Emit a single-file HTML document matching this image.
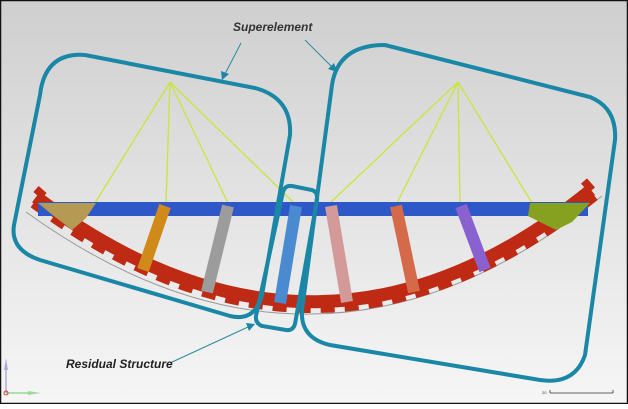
<!DOCTYPE html>
<html><head><meta charset="utf-8"><style>
html,body{margin:0;padding:0;}
body{width:628px;height:404px;overflow:hidden;}
</style></head><body>
<svg width="628" height="404" viewBox="0 0 628 404" xmlns="http://www.w3.org/2000/svg">
<defs>
<linearGradient id="bg" x1="0" y1="0" x2="0" y2="1">
<stop offset="0" stop-color="#cfcfcf"/><stop offset="0.5" stop-color="#e3e3e3"/><stop offset="1" stop-color="#f6f6f6"/>
</linearGradient>
</defs>
<rect x="0" y="0" width="628" height="404" fill="url(#bg)"/>
<rect x="0.5" y="0.5" width="627" height="403" fill="none" stroke="#111" stroke-width="1.5"/>
<g stroke="#c8e63a" stroke-width="1.3" fill="none">
<path d="M170,82 L95,203 M170,82 L166,203 M170,82 L228,203 M170,82 L294,203"/>
<path d="M458,82 L330,203 M458,82 L397,203 M458,82 L460,203 M458,82 L532,203"/>
</g>
<!-- arch -->
<path d="M26,212 Q320,424 602,196" stroke="#999" stroke-width="1" fill="none"/>
<path d="M33,204 Q320,418 596,196" stroke="#bf2a14" stroke-width="8" fill="none" stroke-dasharray="14 10"/>
<path d="M36,197 Q320,410 591,190" stroke="#bf2a14" stroke-width="13" fill="none"/>
<path d="M36,189 L44,196" stroke="#bf2a14" stroke-width="8"/>
<path d="M584,181 L592,190" stroke="#bf2a14" stroke-width="8"/>
<rect x="38" y="202" width="550" height="14" fill="#2e57c8"/>
<g stroke-width="12" fill="none">
<path d="M165,206 L143,270" stroke="#d08a1a"/>
<path d="M228,206 L207,292" stroke="#9c9c9c"/>
<path d="M296,206 L280,303" stroke="#4a8ad0"/>
<path d="M331,206 L347,302" stroke="#d49a9a"/>
<path d="M396,206 L414,292" stroke="#d46a4a"/>
<path d="M461,206 L485,270" stroke="#8a62d0"/>
</g>
<polygon points="38,203 96,203 86,218 72,230 50,213" fill="#b49a52"/>
<polygon points="530,203 590,203 572,222 556,230 528,216" fill="#86a020"/>
<g stroke="#1a87a6" stroke-width="4" fill="none">
<path d="M40,95 Q45,52 85,55 L255,88 Q292,98 290,135 L262,295 Q255,322 230,316 L40,260 Q10,250 14,225 Z"/>
<path d="M332,85 Q338,45 385,45 L590,97 Q617,108 615,140 L585,355 Q575,385 540,380 L330,345 Q300,338 302,310 Z"/>
<path d="M283,192 Q285,185 292,186 L312,190 Q318,192 317,200 L295,324 Q293,331 286,330 L262,326 Q255,323 256,316 Z"/>
</g>
<g stroke="#2a8aa0" stroke-width="1" fill="#1a87a6">
<line x1="241" y1="43" x2="225" y2="74"/>
<polygon points="222,80 221,71 229,74" stroke="none"/>
<line x1="305" y1="40" x2="332" y2="67"/>
<polygon points="337,72 328,69 334,63" stroke="none"/>
<line x1="170" y1="363" x2="248" y2="327"/>
<polygon points="255,324 246,323 249,331" stroke="none"/>
</g>
<text x="233" y="31" font-family="Liberation Sans, sans-serif" font-size="12" font-style="italic" font-weight="bold" fill="#333">Superelement</text>
<text x="66" y="368" font-family="Liberation Sans, sans-serif" font-size="12" font-style="italic" font-weight="bold" fill="#222">Residual Structure</text>
<line x1="6" y1="393" x2="6" y2="360" stroke="#8888cc" stroke-width="1"/>
<polygon points="4,370 8,370 6,358" fill="#aaaadd"/>
<line x1="6" y1="393" x2="38" y2="393" stroke="#66cc66" stroke-width="1"/>
<polygon points="28,391 28,395 41,393" fill="#99dd99"/>
<circle cx="6" cy="393" r="2" fill="none" stroke="#cc4444"/>
<path d="M550,393 L613,393 M550,390 L550,393 M613,390 L613,393" stroke="#333" stroke-width="0.8"/>
<text x="542" y="394" font-family="Liberation Sans, sans-serif" font-size="4" fill="#333">20</text>
</svg>
</body></html>
